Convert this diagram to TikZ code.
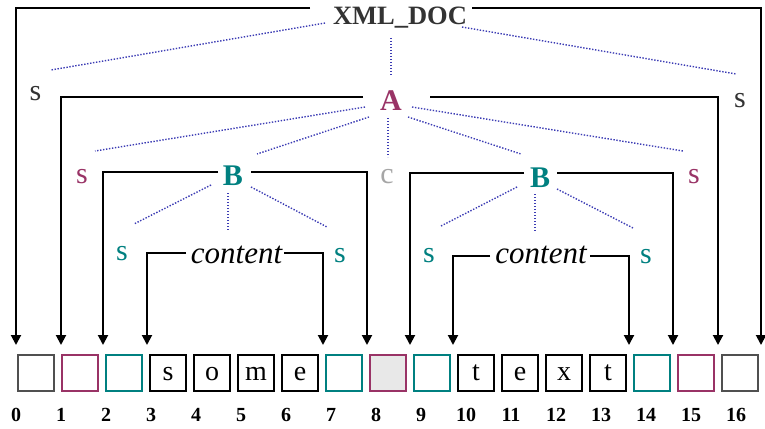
\documentclass[tikz,border=0pt]{standalone}
\usepackage{fontspec}
\setmainfont{Liberation Serif}
\usetikzlibrary{arrows.meta}
\definecolor{pinkc}{HTML}{993366}
\definecolor{tealc}{HTML}{008080}
\definecolor{darkc}{HTML}{333333}
\definecolor{boxdark}{HTML}{505050}
\definecolor{greyc}{HTML}{A6A6A6}
\definecolor{dotc}{HTML}{3C3CB4}
\definecolor{fillc}{HTML}{E8E8E8}
\begin{document}
\begin{tikzpicture}[x=1pt,y=-1pt,
  lab/.style={anchor=base,inner sep=0pt,font=\fontsize{30}{34}\selectfont},
  boldlab/.style={lab,font=\fontsize{30}{34}\selectfont\bfseries},
  itlab/.style={lab,font=\fontsize{31}{35}\selectfont\itshape},
  numlab/.style={anchor=base,inner sep=0pt,font=\fontsize{20}{24}\selectfont\bfseries},
  cell/.style={draw=#1,line width=1.7pt,minimum size=36.3pt,inner sep=0pt,
    text height=14pt,text depth=0pt,font=\fontsize{28}{32}\selectfont},
  conn/.style={line width=2pt,-{Triangle[length=10pt,width=10pt]}},
  tie/.style={dotc,line width=1.4pt,dash pattern=on 1.4pt off 1.6pt}]
\useasboundingbox (0,0) rectangle (765,428);

% labels
\node[boldlab,text=darkc,font=\fontsize{26.5}{30}\selectfont\bfseries] (doc) at (400,25) {XML\_DOC};
\node[boldlab,text=pinkc] (A) at (391,110) {A};
\node[lab,text=darkc] (s0L) at (35.5,100) {s};
\node[lab,text=darkc] (s0R) at (740,107) {s};
\node[lab,text=pinkc] (s1L) at (82,183) {s};
\node[lab,text=greyc] (c) at (387,183) {c};
\node[lab,text=pinkc] (s1R) at (694,183) {s};
\node[boldlab,text=tealc] (B1) at (233,185) {B};
\node[boldlab,text=tealc] (B2) at (540,187) {B};
\node[lab,text=tealc] (s2a) at (122,260) {s};
\node[lab,text=tealc] (s2b) at (340,262) {s};
\node[lab,text=tealc] (s2c) at (429,262) {s};
\node[lab,text=tealc] (s2d) at (646,263) {s};
\node[itlab] (ct1) at (236.5,263) {content};
\node[itlab] (ct2) at (541,263) {content};

% cells
\foreach \i/\col/\t in {0/boxdark/,1/pinkc/,2/tealc/,3/black/s,4/black/o,5/black/m,6/black/e,
  7/tealc/,8/pinkc/,9/tealc/,10/black/t,11/black/e,12/black/x,13/black/t,14/tealc/,15/pinkc/,16/boxdark/}
  \node[cell=\col] (b\i) at (36+44*\i,373) {\t};
\node[cell=pinkc,fill=fillc] at (b8) {};

% index numbers
\foreach \i in {0,...,16}
  \node[numlab] (n\i) at (16+45*\i,421) {\i};

% arrow tips
\foreach \n/\x in {0/16,1/61,2/103,3/147,7/323,8/367,9/410,10/453,13/629,14/673,15/718,16/761}
  \coordinate (t\n) at (\x,345);

% connector starts
\coordinate (docL) at (310,8);
\coordinate (docR) at (472,8);
\coordinate (AL) at (363,96.5);
\coordinate (AR) at (430,96.5);
\coordinate (B1L) at (218,172);
\coordinate (B1R) at (251,172);
\coordinate (B2L) at (524,173);
\coordinate (B2R) at (557,173);
\coordinate (c1L) at (186,253);
\coordinate (c1R) at (284,253);
\coordinate (c2L) at (490,256);
\coordinate (c2R) at (590,256);

\draw[conn] (docL) -| (t0);
\draw[conn] (docR) -| (t16);
\draw[conn] (AL) -| (t1);
\draw[conn] (AR) -| (t15);
\draw[conn] (B1L) -| (t2);
\draw[conn] (B1R) -| (t8);
\draw[conn] (B2L) -| (t9);
\draw[conn] (B2R) -| (t14);
\draw[conn] (c1L) -| (t3);
\draw[conn] (c1R) -| (t7);
\draw[conn] (c2L) -| (t10);
\draw[conn] (c2R) -| (t13);

% tree ties (dotted)
\foreach \a/\b/\c/\d in {325/23/51/70, 391/38/391/76, 462/27/736/74,
  365/107/95/151, 369/117/257/154, 388/118/388/157, 408/117/521/154, 412/107/683/151,
  211/185/134/224, 228/193/228/230, 251/187/327/227,
  517/187/441/226, 535/194/535/232, 557/189/633/228}
  \draw[tie] (\a,\b) -- (\c,\d);
\end{tikzpicture}
\end{document}
